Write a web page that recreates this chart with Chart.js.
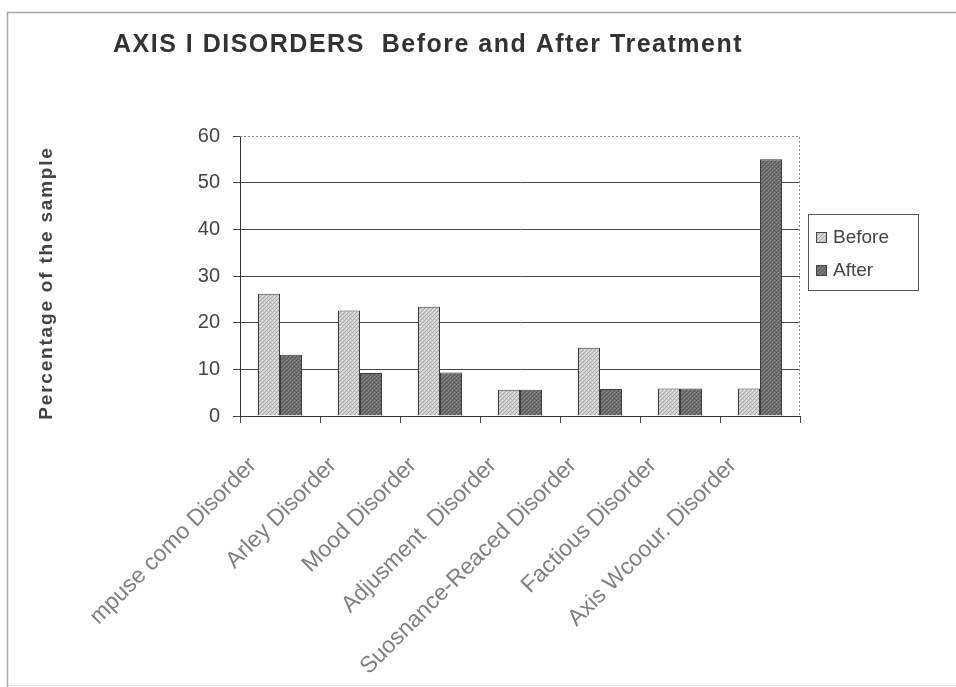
<!DOCTYPE html>
<html>
<head>
<meta charset="utf-8">
<script src="https://cdn.jsdelivr.net/npm/chart.js@4.4.0/dist/chart.umd.min.js"></script>
<style>
  html, body { margin: 0; padding: 0; background: #fff; }
  #wrap { position: relative; width: 956px; height: 687px; }
</style>
</head>
<body>
<div id="wrap"><canvas id="c" width="956" height="687"></canvas></div>
<script>
// Chart data
const categories = [
  'mpuse como Disorder',
  'Arley Disorder',
  'Mood Disorder',
  'Adjusment  Disorder',
  'Suosnance-Reaced Disorder',
  'Factious Disorder',
  'Axis Wcoour. Disorder'
];
const seriesNames = ['Before', 'After'];
const beforeValues = [26.2, 22.6, 23.4, 5.6, 14.6, 5.9, 5.9];
const afterValues = [13.1, 9.2, 9.3, 5.6, 5.8, 5.9, 55.0];
const yTicks = [0, 10, 20, 30, 40, 50, 60];

const FONT = "'Liberation Sans', Arial, Helvetica, sans-serif";
const chartTitle = 'AXIS I DISORDERS  Before and After Treatment';
const yAxisTitle = 'Percentage of the sample';

// Small stippled fill patterns for the bars
function stipple(base, dots, accent) {
  const p = document.createElement('canvas');
  p.width = 4; p.height = 4;
  const g = p.getContext('2d');
  g.fillStyle = base; g.fillRect(0, 0, 4, 4);
  g.fillStyle = dots;
  [[0, 0], [2, 2], [1, 3], [3, 1]].forEach(([x, y]) => g.fillRect(x, y, 1, 1));
  g.fillStyle = accent;
  [[2, 0], [0, 2]].forEach(([x, y]) => g.fillRect(x, y, 1, 1));
  return g.createPattern(p, 'repeat');
}
const beforeFill = stipple('#cfcfcf', '#a9a9a9', '#e8e8e8');
const afterFill = stipple('#727272', '#585858', '#8c8c8c');

// Outer frame of the figure
const framePlugin = {
  id: 'frame',
  beforeDraw(chart) {
    const ctx = chart.ctx;
    ctx.save();
    ctx.strokeStyle = '#a8a8a8';
    ctx.lineWidth = 1.5;
    ctx.beginPath();
    ctx.moveTo(7.5, 687);
    ctx.lineTo(7.5, 12.5);
    ctx.lineTo(956, 12.5);
    ctx.stroke();
    ctx.strokeStyle = '#e6e6e6';
    ctx.lineWidth = 1;
    ctx.beginPath();
    ctx.moveTo(7.5, 685.5);
    ctx.lineTo(956, 685.5);
    ctx.stroke();
    ctx.restore();
  }
};

// Dotted top and right edges of the plot area
const plotEdgePlugin = {
  id: 'plotEdge',
  beforeDatasetsDraw(chart) {
    const { ctx, chartArea: a } = chart;
    ctx.save();
    ctx.strokeStyle = '#8a8a8a';
    ctx.lineWidth = 1;
    ctx.setLineDash([2, 2]);
    ctx.beginPath();
    ctx.moveTo(a.left, a.top + 0.5);
    ctx.lineTo(a.right - 0.5, a.top + 0.5);
    ctx.lineTo(a.right - 0.5, a.bottom);
    ctx.stroke();
    ctx.restore();
  }
};

// Heading and letter-spaced value-axis caption
const textPlugin = {
  id: 'texts',
  afterDraw(chart) {
    const ctx = chart.ctx;
    const a = chart.chartArea;
    ctx.save();
    ctx.font = 'bold 25px ' + FONT;
    ctx.fillStyle = '#333';
    ctx.textAlign = 'left';
    ctx.textBaseline = 'alphabetic';
    ctx.letterSpacing = '1.5px';
    ctx.fillText(chartTitle, 113, 52);
    ctx.restore();

    ctx.save();
    ctx.translate(47, (a.top + a.bottom) / 2 + 7);
    ctx.rotate(-Math.PI / 2);
    ctx.font = 'bold 19px ' + FONT;
    ctx.fillStyle = '#444';
    ctx.textAlign = 'center';
    ctx.textBaseline = 'middle';
    ctx.letterSpacing = '1.8px';
    ctx.fillText(yAxisTitle, 0, 0);
    ctx.restore();
  }
};

// Boxed legend to the right of the plot
const boxLegendPlugin = {
  id: 'boxLegend',
  afterDraw(chart) {
    const ctx = chart.ctx;
    const a = chart.chartArea;
    const x0 = a.right + 8, y0 = 214, w = 110, h = 76;
    ctx.save();
    ctx.fillStyle = '#fff';
    ctx.fillRect(x0, y0, w, h);
    ctx.strokeStyle = '#555';
    ctx.lineWidth = 1;
    ctx.strokeRect(x0 + 0.5, y0 + 0.5, w, h);
    ctx.font = '19px ' + FONT;
    ctx.textBaseline = 'middle';
    ctx.textAlign = 'left';
    chart.data.datasets.forEach((ds, i) => {
      const cy = y0 + 23 + i * 33;
      ctx.fillStyle = ds.backgroundColor;
      ctx.fillRect(x0 + 8, cy - 5, 11, 11);
      ctx.strokeStyle = '#444';
      ctx.strokeRect(x0 + 8.5, cy - 4.5, 10, 10);
      ctx.fillStyle = '#444';
      ctx.fillText(ds.label, x0 + 25, cy + 1);
    });
    ctx.restore();
  }
};

new Chart(document.getElementById('c'), {
  type: 'bar',
  data: {
    labels: categories,
    datasets: [
      { label: seriesNames[0], data: beforeValues, backgroundColor: beforeFill,
        borderColor: '#3a3a3a', borderWidth: 1 },
      { label: seriesNames[1], data: afterValues, backgroundColor: afterFill,
        borderColor: '#3a3a3a', borderWidth: 1 }
    ]
  },
  options: {
    responsive: false,
    animation: false,
    devicePixelRatio: 1,
    layout: { padding: { top: 136, right: 156, left: 0, bottom: 0 } },
    datasets: { bar: { categoryPercentage: 0.55, barPercentage: 1.0 } },
    plugins: {
      legend: { display: false },
      title: { display: false },
      tooltip: { enabled: false }
    },
    scales: {
      x: {
        afterFit(s) { s.height = 271; },
        grid: { offset: true, drawOnChartArea: false, tickLength: 7, tickColor: '#444', lineWidth: 1 },
        border: { color: '#333', width: 1 },
        ticks: {
          autoSkip: false, minRotation: 45, maxRotation: 45,
          labelOffset: -27, padding: 29,
          color: '#808080', font: { family: FONT, size: 23 }
        }
      },
      y: {
        min: 0, max: 60,
        afterFit(s) { s.width = 240; },
        afterBuildTicks(s) { s.ticks = yTicks.map(v => ({ value: v })); },
        grid: {
          color: c => (c.tick && c.tick.value === 60) ? 'rgba(0,0,0,0)' : '#4a4a4a',
          tickColor: '#444', tickLength: 7, lineWidth: 1
        },
        border: { color: '#333', width: 1 },
        ticks: { color: '#444', padding: 13, font: { family: FONT, size: 20 } }
      }
    }
  },
  plugins: [framePlugin, plotEdgePlugin, textPlugin, boxLegendPlugin]
});
</script>
</body>
</html>
